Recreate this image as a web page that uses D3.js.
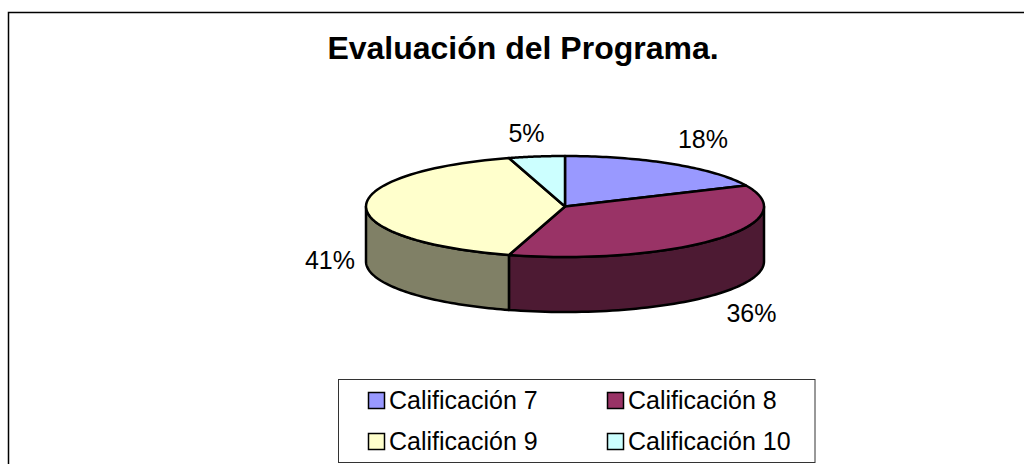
<!DOCTYPE html>
<html>
<head>
<meta charset="utf-8">
<style>
  html, body { margin: 0; padding: 0; background: #fff; }
  svg { display: block; }
  text { font-family: "Liberation Sans", Arial, sans-serif; fill: #000; }
</style>
<script src="https://cdn.jsdelivr.net/npm/d3@7"></script>
</head>
<body>
<div id="chart"></div>
<script>
var w = 1024, h = 464;

var titleText = 'Evaluación del Programa.';
var categories = ['Calificación 7', 'Calificación 8', 'Calificación 9', 'Calificación 10'];
var counts = [4, 8, 9, 1];
var topColors = ['#9999ff', '#993366', '#ffffcc', '#ccffff'];
var sideColors = ['#4d4d80', '#4d1a33', '#808066', '#668080'];

var svg = d3.select('#chart').append('svg')
    .attr('width', w)
    .attr('height', h);

// marco: solo izquierda y arriba, el resto queda fuera del recorte
svg.append('path')
    .attr('d', 'M8.5,464V12.5H1024')
    .attr('fill', 'none')
    .attr('stroke', '#000')
    .attr('stroke-width', 1.5);

svg.append('text')
    .attr('x', 523)
    .attr('y', 59)
    .attr('text-anchor', 'middle')
    .style('font-size', '32px')
    .style('font-weight', 'bold')
    .text(titleText);

// pastel en perspectiva: circulo unitario proyectado con dos escalas
var x = d3.scaleLinear().domain([-1, 1]).range([366, 764]);
var y = d3.scaleLinear().domain([-1, 1]).range([156, 257]);
var depth = 55;

var pie = d3.pie().sort(null).startAngle(0).endAngle(2 * Math.PI);
var slices = pie(counts);
var total = d3.sum(counts);

function ptX(a) { return x(Math.sin(a)); }
function ptY(a) { return y(-Math.cos(a)); }

function arcPoints(a0, a1, dy) {
    var pts = d3.range(0, 61).map(function(i) {
        var a = a0 + (a1 - a0) * i / 60;
        return [ptX(a), ptY(a) + dy];
    });
    return pts;
}
var line = d3.line();

// pared lateral, solo la parte frontal
var g = svg.append('g')
    .attr('stroke', '#000')
    .attr('stroke-width', 2.5)
    .attr('stroke-linejoin', 'round');

slices.forEach(function(d, i) {
    var a0 = Math.max(d.startAngle, Math.PI / 2),
        a1 = Math.min(d.endAngle, 3 * Math.PI / 2);
    if (a1 <= a0) return;
    var pts = arcPoints(a0, a1, 0).concat(arcPoints(a1, a0, depth));
    g.append('path')
        .attr('d', line(pts) + 'Z')
        .attr('fill', sideColors[i]);
});

// cara superior
slices.forEach(function(d, i) {
    var pts = [[x(0), y(0)]].concat(arcPoints(d.startAngle, d.endAngle, 0));
    g.append('path')
        .attr('d', line(pts) + 'Z')
        .attr('fill', topColors[i]);
});

// etiquetas de porcentaje
var labelPos = [[703, 148], [751.5, 322], [330, 269], [526.5, 142]];
svg.selectAll('.pct')
    .data(slices)
    .enter().append('text')
    .attr('class', 'pct')
    .attr('x', function(d, i) { return labelPos[i][0]; })
    .attr('y', function(d, i) { return labelPos[i][1]; })
    .attr('text-anchor', 'middle')
    .style('font-size', '25px')
    .text(function(d) { return Math.round(d.value / total * 100) + '%'; });

// leyenda
var legend = svg.append('g');
legend.append('rect')
    .attr('x', 338.5)
    .attr('y', 379.5)
    .attr('width', 476.5)
    .attr('height', 83)
    .attr('fill', '#fff')
    .attr('stroke', '#333')
    .attr('stroke-width', 1);

var legendX = d3.scalePoint().domain([0, 1]).range([368, 607]);
var legendY = d3.scalePoint().domain([0, 1]).range([392, 433]);

var item = legend.selectAll('.item')
    .data(categories)
    .enter().append('g')
    .attr('class', 'item')
    .attr('transform', function(d, i) {
        return 'translate(' + [legendX(i % 2), legendY(Math.floor(i / 2))] + ')';
    });

item.append('rect')
    .attr('x', 0.5)
    .attr('y', 0.5)
    .attr('width', 16)
    .attr('height', 16)
    .attr('fill', function(d, i) { return topColors[i]; })
    .attr('stroke', '#000')
    .attr('stroke-width', 1.5);

item.append('text')
    .attr('x', 21)
    .attr('y', 17)
    .style('font-size', '25px')
    .text(function(d) { return d; });
</script>
</body>
</html>
